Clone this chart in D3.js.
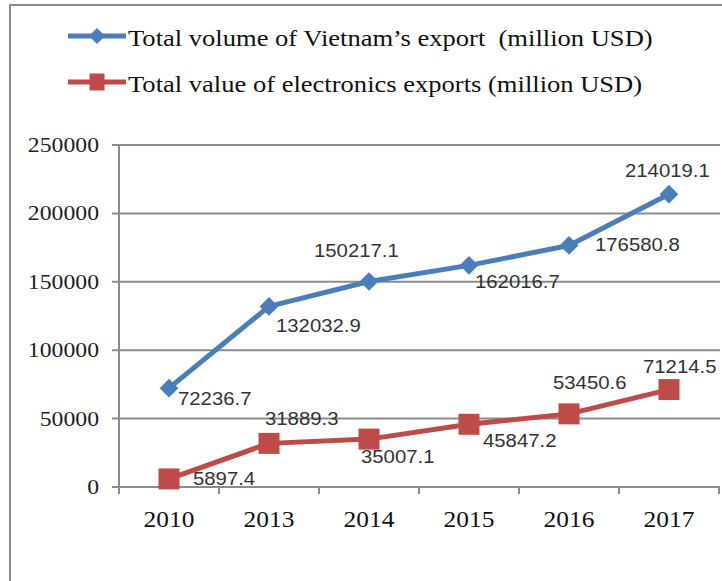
<!DOCTYPE html>
<html>
<head>
<meta charset="utf-8">
<script src="https://cdn.jsdelivr.net/npm/d3@7"></script>
<style>
  body { margin: 0; background: #fff; }
  text { white-space: pre; }
  .serif { font-family: "Liberation Serif", "Times New Roman", "DejaVu Serif", serif; }
  .sans { font-family: "Liberation Sans", Arial, "DejaVu Sans", sans-serif; }
</style>
</head>
<body>
<svg id="chart"></svg>
<script>
const years = ['2010', '2013', '2014', '2015', '2016', '2017'];
const totalExport = [72236.7, 132032.9, 150217.1, 162016.7, 176580.8, 214019.1];
const electronicsExport = [5897.4, 31889.3, 35007.1, 45847.2, 53450.6, 71214.5];
const yTicks = [0, 50000, 100000, 150000, 200000, 250000];
const seriesNames = [
  'Total volume of Vietnam\u2019s export  (million USD)',
  'Total value of electronics exports (million USD)'
];

// where each data label sits relative to its point (dx, dy to text start / baseline)
const totalLabelOffsets = [[9, 17], [7, 26], [-55, -25], [6, 23], [26, 6], [-44, -17]];
const elecLabelOffsets = [[24, 6], [-4, -18], [-8, 24], [14, 23], [-16, -25], [-26, -17]];

const width = 722;
const height = 581;
const sx = 1.13; // picture is stretched a little sideways
const blue = '#4a7ebb';
const red = '#be4b48';
const gridColor = '#8c8c8c';

const svg = d3.select('#chart')
  .attr('width', width)
  .attr('height', height);

// outer frame (runs off right and bottom)
svg.append('rect')
  .attr('x', 10).attr('y', 5)
  .attr('width', 760).attr('height', 640)
  .attr('fill', 'none')
  .attr('stroke', '#8a8a8a')
  .attr('stroke-width', 2);

const x = d3.scaleBand().domain(years).range([119, 719]);
const y = d3.scaleLinear().domain([0, 250000]).range([487, 145]);
const cx = d => x(d) + x.bandwidth() / 2;

function stretchedText(g, tx, ty, cls) {
  return g.append('text')
    .attr('class', cls)
    .attr('transform', `translate(${tx},${ty}) scale(${sx},1)`);
}

// grid lines + y tick labels
yTicks.forEach(t => {
  svg.append('line')
    .attr('x1', 112).attr('x2', 720)
    .attr('y1', y(t)).attr('y2', y(t))
    .attr('stroke', gridColor).attr('stroke-width', 2);
  stretchedText(svg, 99, y(t) + 7, 'serif')
    .attr('text-anchor', 'end')
    .attr('font-size', 21)
    .attr('fill', '#222')
    .text(t);
});

// y axis line
svg.append('line')
  .attr('x1', 119).attr('x2', 119)
  .attr('y1', y(250000)).attr('y2', y(0) + 6)
  .attr('stroke', gridColor).attr('stroke-width', 2);

// x axis ticks between categories
years.concat(['end']).forEach((d, i) => {
  const xx = i < years.length ? x(d) : x.range()[1];
  svg.append('line')
    .attr('x1', xx).attr('x2', xx)
    .attr('y1', y(0)).attr('y2', y(0) + 7)
    .attr('stroke', gridColor).attr('stroke-width', 2);
});

years.forEach(d => {
  stretchedText(svg, cx(d), 527, 'serif')
    .attr('text-anchor', 'middle')
    .attr('font-size', 22.5)
    .attr('fill', '#111')
    .text(d);
});

const line = d3.line().x((d, i) => cx(years[i])).y(d => y(d));

// series lines
svg.append('path').datum(totalExport)
  .attr('d', line).attr('fill', 'none')
  .attr('stroke', blue).attr('stroke-width', 5).attr('stroke-linejoin', 'round');
svg.append('path').datum(electronicsExport)
  .attr('d', line).attr('fill', 'none')
  .attr('stroke', red).attr('stroke-width', 5).attr('stroke-linejoin', 'round');

// markers: square turned 45deg for the diamonds
const diamond = d3.symbol().type(d3.symbolSquare).size(175);
svg.selectAll('.diamond').data(totalExport).enter().append('path')
  .attr('class', 'diamond')
  .attr('d', diamond)
  .attr('transform', (d, i) => `translate(${cx(years[i])},${y(d)}) rotate(45)`)
  .attr('fill', blue);

svg.selectAll('.square').data(electronicsExport).enter().append('rect')
  .attr('class', 'square')
  .attr('x', (d, i) => cx(years[i]) - 10.5)
  .attr('y', d => y(d) - 10.5)
  .attr('width', 21).attr('height', 21)
  .attr('fill', red);

// data labels
function addLabels(values, offsets) {
  values.forEach((v, i) => {
    stretchedText(svg, cx(years[i]) + offsets[i][0], y(v) + offsets[i][1], 'sans')
      .attr('font-size', 18)
      .attr('fill', '#333')
      .text(d3.format('.1f')(v));
  });
}
addLabels(totalExport, totalLabelOffsets);
addLabels(electronicsExport, elecLabelOffsets);

// legend
const legend = svg.append('g');
[0, 1].forEach(i => {
  const ly = i === 0 ? 36 : 82;
  legend.append('line')
    .attr('x1', 68).attr('x2', 126)
    .attr('y1', ly).attr('y2', ly)
    .attr('stroke', i === 0 ? blue : red)
    .attr('stroke-width', 5);
  if (i === 0) {
    legend.append('path')
      .attr('d', d3.symbol().type(d3.symbolSquare).size(128))
      .attr('transform', `translate(97,${ly}) rotate(45)`)
      .attr('fill', blue);
  } else {
    legend.append('rect')
      .attr('x', 97 - 7.5).attr('y', ly - 8.5)
      .attr('width', 15).attr('height', 17)
      .attr('fill', red);
  }
  stretchedText(legend, 128, ly + 10, 'serif')
    .attr('font-size', 23.5)
    .attr('fill', '#111')
    .text(seriesNames[i]);
});
</script>
</body>
</html>
